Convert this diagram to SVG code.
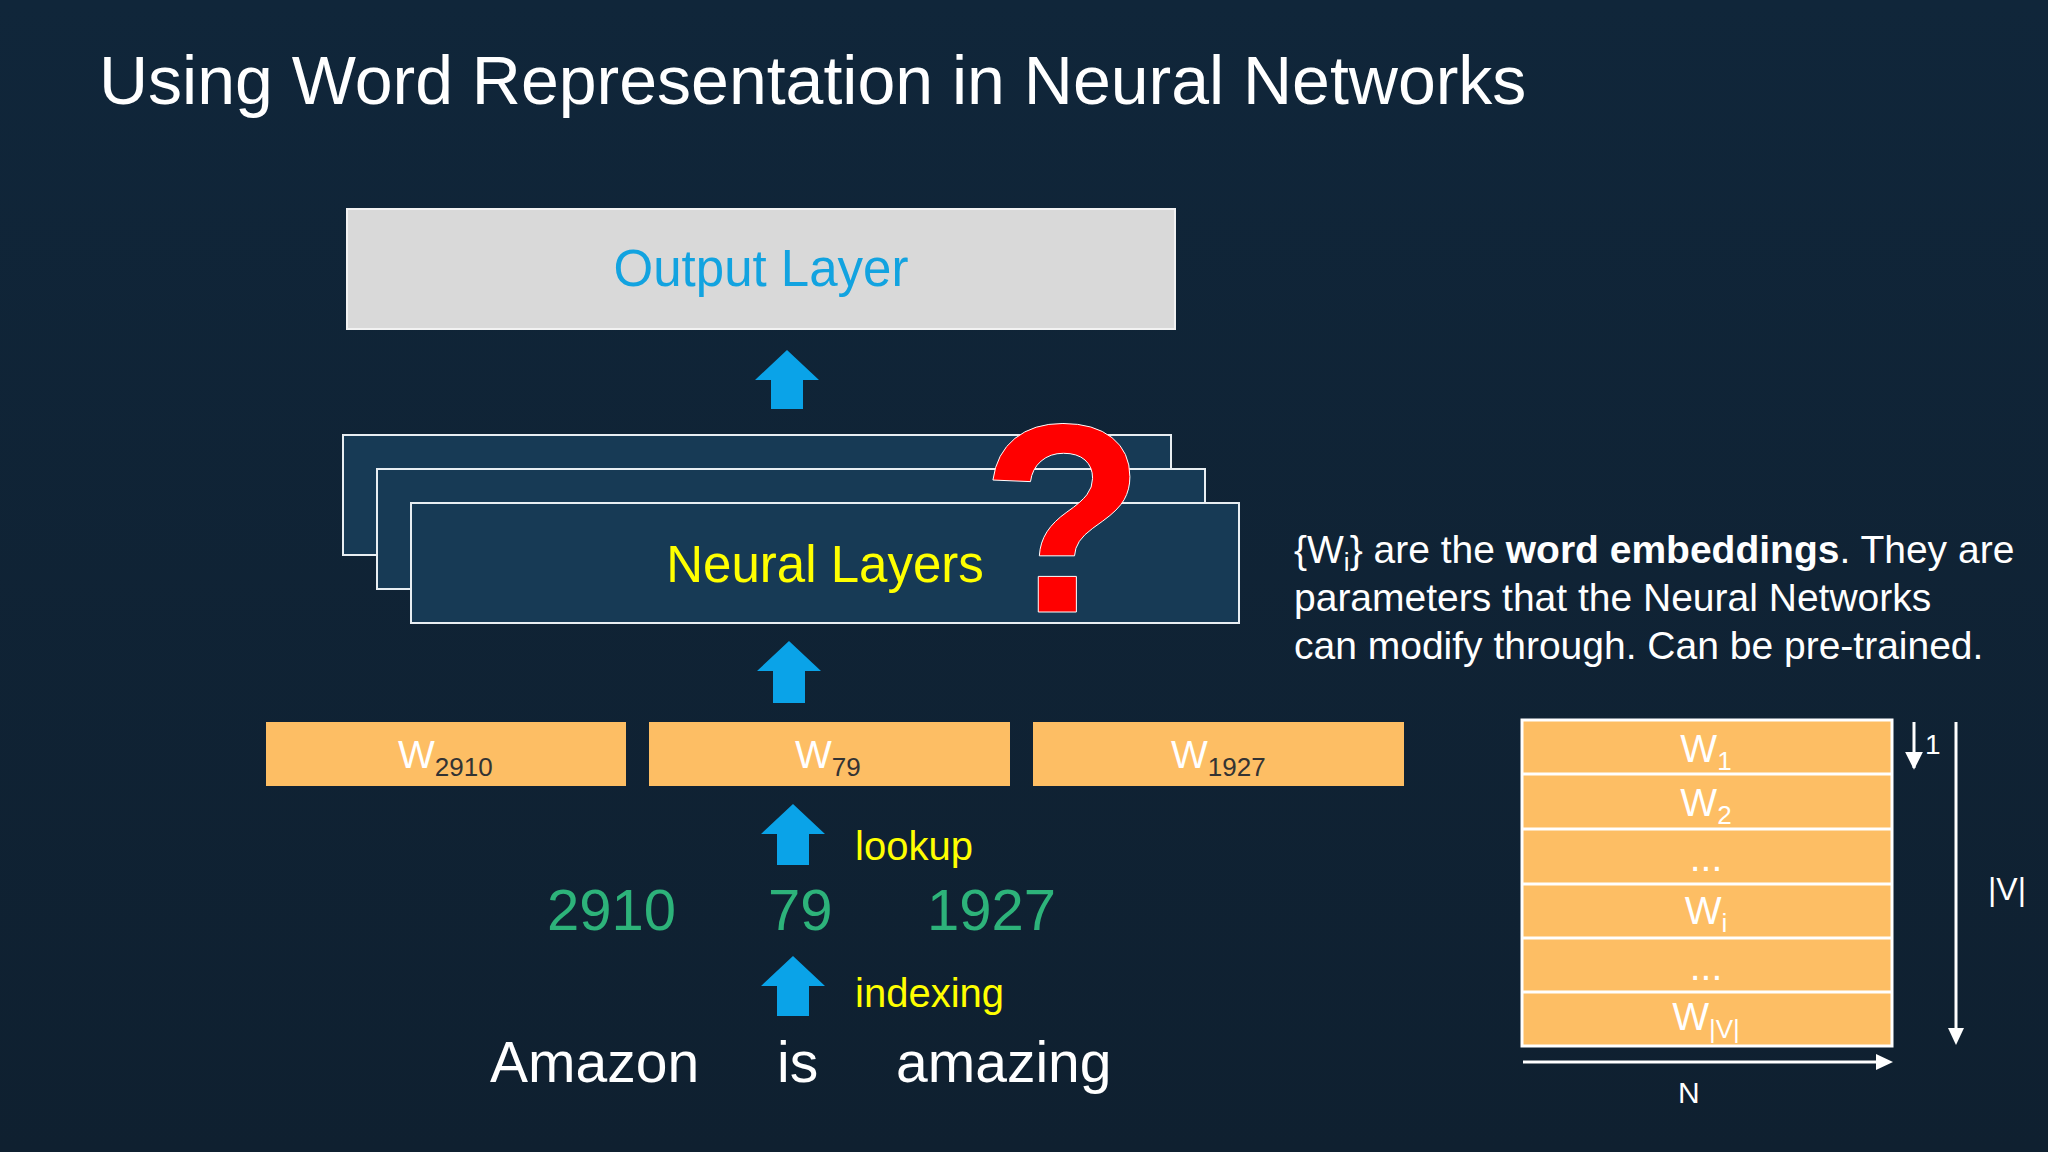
<svg xmlns="http://www.w3.org/2000/svg" width="2048" height="1152" viewBox="0 0 2048 1152">
<defs>
<style>
text{font-family:"Liberation Sans",Arial,sans-serif}
.wb{fill:#fdbe64}
.w{fill:#ffffff;font-size:39px}
.sub{fill:#333;font-size:26px}
.nl{fill:#173a55;stroke:#e8eef2;stroke-width:2}
.ba{fill:#0aa3e8}
.wh{fill:#fff}
</style>
<marker id="ah" viewBox="0 0 10 10" refX="9" refY="5" markerWidth="6" markerHeight="6" orient="auto"><path d="M0,0L10,5L0,10z" fill="#fff"/></marker>
<linearGradient id="bg" x1="0" y1="0" x2="0" y2="1"><stop offset="0" stop-color="#10263a"/><stop offset="1" stop-color="#0f2030"/></linearGradient>
</defs>
<rect width="2048" height="1152" fill="url(#bg)"/>
<text x="99" y="104" font-size="68" fill="#fff">Using Word Representation in Neural Networks</text>
<g id="output"><rect x="347" y="209" width="828" height="120" fill="#d9d9d9" stroke="#f2f2f2" stroke-width="2"/><text x="761" y="286" font-size="51" fill="#12a3e0" text-anchor="middle">Output Layer</text></g>
<g id="neural">
<rect class="nl" x="343" y="435" width="828" height="120"/>
<rect class="nl" x="377" y="469" width="828" height="120"/>
<rect class="nl" x="411" y="503" width="828" height="120"/>
<text x="825" y="582" font-size="51" fill="#ffff00" text-anchor="middle">Neural Layers</text>
</g>
<g id="question"><text x="1063" y="612" font-size="270" font-weight="bold" fill="#ff0000" stroke="#fff" stroke-width="1" text-anchor="middle">?</text></g>
<g id="connectors">
<path class="ba" d="M787,350L819,380L803,380L803,409L771,409L771,380L755,380Z"/>
<path class="ba" d="M789,641L821,671L805,671L805,703L773,703L773,671L757,671Z"/>
<path class="ba" d="M793,804L825,834L809,834L809,865L777,865L777,834L761,834Z"/>
<path class="ba" d="M793,956L825,986L809,986L809,1016L777,1016L777,986L761,986Z"/>
<line x1="1914" y1="722" x2="1914" y2="768" stroke="#fff" stroke-width="3" marker-end="url(#ah)"/>
<line x1="1956" y1="722" x2="1956" y2="1030" stroke="#fff" stroke-width="3"/>
<path d="M1948,1028L1964,1028L1956,1045Z" class="wh"/>
<line x1="1523" y1="1062" x2="1880" y2="1062" stroke="#fff" stroke-width="3"/>
<path d="M1876,1054L1893,1062L1876,1070Z" class="wh"/>
</g>
<g id="w2910"><rect class="wb" x="266" y="722" width="360" height="64"/><text x="398" y="768" class="w">W<tspan class="sub" dy="8">2910</tspan></text></g>
<g id="w79"><rect class="wb" x="649" y="722" width="361" height="64"/><text x="795" y="768" class="w">W<tspan class="sub" dy="8">79</tspan></text></g>
<g id="w1927"><rect class="wb" x="1033" y="722" width="371" height="64"/><text x="1171" y="768" class="w">W<tspan class="sub" dy="8">1927</tspan></text></g>
<text x="855" y="860" font-size="40" fill="#ffff00">lookup</text>
<text x="855" y="1007" font-size="40" fill="#ffff00">indexing</text>
<g font-size="58" fill="#2db37a"><text x="547" y="930">2910</text><text x="768" y="930">79</text><text x="927" y="930">1927</text></g>
<g font-size="57" fill="#fff"><text x="490" y="1082">Amazon</text><text x="777" y="1082">is</text><text x="896" y="1082">amazing</text></g>
<g id="note" font-size="39" fill="#fff">
<text x="1294" y="563">{W<tspan font-size="26" dy="8">i</tspan><tspan dy="-8">} are the </tspan><tspan font-weight="bold">word embeddings</tspan>. They are</text>
<text x="1294" y="611">parameters that the Neural Networks</text>
<text x="1294" y="659">can modify through. Can be pre-trained.</text>
</g>
<g id="matrix">
<rect class="wb" x="1522" y="720" width="370" height="326" stroke="#fff" stroke-width="3"/>
<g stroke="#fff" stroke-width="3"><line x1="1522" y1="774" x2="1892" y2="774"/><line x1="1522" y1="829" x2="1892" y2="829"/><line x1="1522" y1="884" x2="1892" y2="884"/><line x1="1522" y1="938" x2="1892" y2="938"/><line x1="1522" y1="992" x2="1892" y2="992"/></g>
<g class="w" text-anchor="middle">
<text x="1706" y="762">W<tspan font-size="26" dy="8">1</tspan></text>
<text x="1706" y="816">W<tspan font-size="26" dy="8">2</tspan></text>
<text x="1706" y="871">...</text>
<text x="1706" y="924">W<tspan font-size="26" dy="8">i</tspan></text>
<text x="1706" y="980">...</text>
<text x="1706" y="1030">W<tspan font-size="26" dy="8">|V|</tspan></text>
</g>
</g>
<text x="1925" y="754" font-size="28" fill="#fff">1</text>
<text x="1988" y="900" font-size="32" fill="#fff">|V|</text>
<text x="1678" y="1103" font-size="30" fill="#fff">N</text>
</svg>
